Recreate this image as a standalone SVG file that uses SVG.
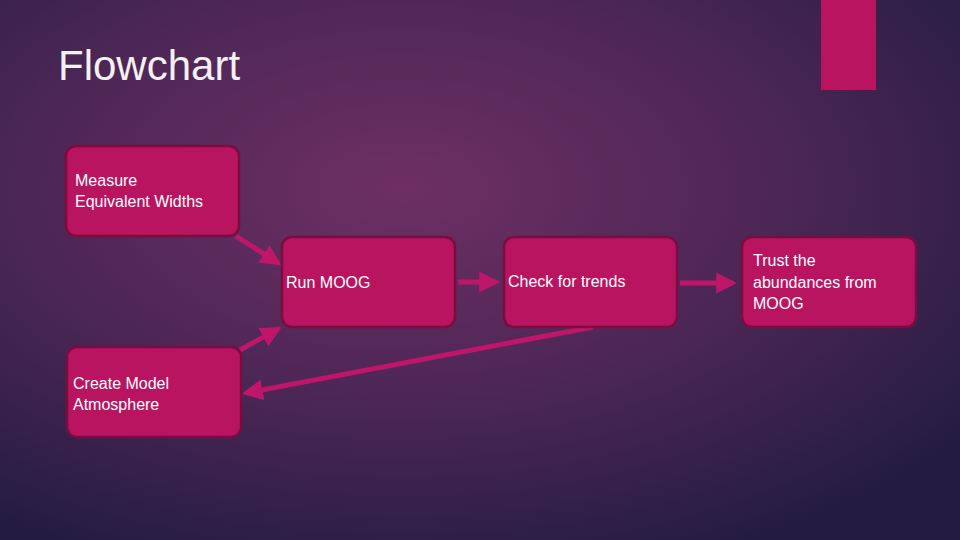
<svg xmlns="http://www.w3.org/2000/svg" width="960" height="540" viewBox="0 0 960 540">
<defs>
<radialGradient id="bg" cx="0.42" cy="0.35" r="0.75">
<stop offset="0" stop-color="#6e2f64"/>
<stop offset="0.55" stop-color="#4a2654"/>
<stop offset="1" stop-color="#231c40"/>
</radialGradient>
<marker id="ah" viewBox="0 0 10 10" refX="8" refY="5" markerWidth="4.2" markerHeight="4.2" orient="auto"><path d="M0,0 L10,5 L0,10 z" fill="#c0166a"/></marker>
<style>
.box{fill:#b8145f;stroke:#7a0c40;stroke-width:2.5}
.t{font-family:"Liberation Sans",Arial,sans-serif;font-size:16px;fill:#ffffff}
.c{stroke:#c0166a;stroke-width:5;fill:none}
</style>
</defs>
<rect width="960" height="540" fill="url(#bg)"/>
<rect x="821" y="0" width="55" height="90" fill="#b8145f"/>
<text x="58" y="80" font-family="'Liberation Sans',Arial,sans-serif" font-size="42" font-weight="300" fill="#f4f0f4">Flowchart</text>
<g id="connectors">
<line class="c" x1="236" y1="236" x2="278" y2="263" marker-end="url(#ah)"/>
<line class="c" x1="458" y1="282" x2="496" y2="282" marker-end="url(#ah)"/>
<line class="c" x1="680" y1="283" x2="733" y2="283" marker-end="url(#ah)"/>
<line class="c" x1="240" y1="350" x2="278" y2="329" marker-end="url(#ah)"/>
<line class="c" x1="593" y1="327" x2="246" y2="393" marker-end="url(#ah)"/>
</g>
<g id="measure"><rect class="box" x="66" y="146" width="173" height="90" rx="10"/><text class="t" x="75" y="186">Measure</text><text class="t" x="75" y="207">Equivalent Widths</text></g>
<g id="run"><rect class="box" x="282" y="237" width="173" height="90" rx="10"/><text class="t" x="286" y="288">Run MOOG</text></g>
<g id="check"><rect class="box" x="504" y="237" width="173" height="90" rx="10"/><text class="t" x="508" y="287">Check for trends</text></g>
<g id="trust"><rect class="box" x="742" y="237" width="174" height="90" rx="10"/><text class="t" x="753" y="266">Trust the</text><text class="t" x="753" y="288">abundances from</text><text class="t" x="753" y="309">MOOG</text></g>
<g id="create"><rect class="box" x="67" y="347" width="174" height="90" rx="10"/><text class="t" x="73" y="389">Create Model</text><text class="t" x="73" y="410">Atmosphere</text></g>
</svg>
